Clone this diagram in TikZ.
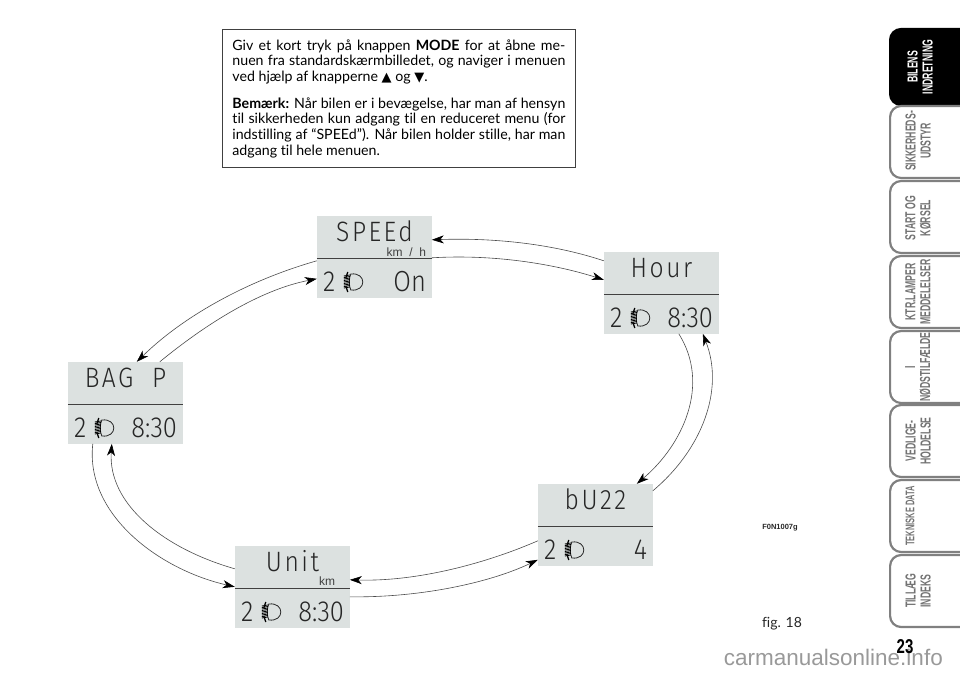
\documentclass[tikz,border=0pt]{standalone}
\usepackage{fontspec}
\usepackage{xcolor}
\usetikzlibrary{arrows.meta,calc,positioning}
\setmainfont[Ligatures=NoCommon]{Lato}
\newfontfamily\symfont{DejaVu Sans}
\newfontfamily\lcdfont[FakeStretch=0.88]{Fira Sans Light}
\newfontfamily\tabfont[FakeStretch=0.6]{Liberation Sans}
\newfontfamily\pagefont[FakeStretch=0.75]{Liberation Sans}
\newfontfamily\headfont{Liberation Sans}
\definecolor{lcdgrey}{HTML}{DCE1E0}
\definecolor{tabgrey}{HTML}{808080}
\tikzset{
  lcd/.style={fill=lcdgrey, minimum width=115pt, minimum height=82pt, inner sep=0pt},
  lcdtop/.style={font=\lcdfont\fontsize{28}{28}\selectfont\addfontfeature{LetterSpace=9}, anchor=base, inner sep=0pt, text=black!85},
  lcdval/.style={font=\lcdfont\fontsize{29}{29}\selectfont, anchor=base east, inner sep=0pt, text=black!85},
  lcdgear/.style={font=\lcdfont\fontsize{29}{29}\selectfont, anchor=base west, inner sep=0pt, text=black!85},
  lcdunit/.style={font=\headfont\fontsize{12}{12}\selectfont, anchor=base east, inner sep=0pt, text=black!75},
  arr/.style={-{Stealth[length=12pt,width=8pt,inset=3.5pt,color=black]}, line width=0.6pt, draw=black!70},
  notebox/.style={draw=black!75, line width=0.8pt, fill=white, align=justify,
    font=\fontsize{14.2}{15.7}\selectfont, text width=333pt, inner xsep=10pt, inner ysep=10pt, anchor=north west},
  tab/.style={draw=tabgrey, line width=2.2pt, fill=white, rounded corners=11pt, minimum width=100pt,
    minimum height=72pt, inner sep=0pt, anchor=west, text=black!55},
  tabon/.style={tab, draw=black, fill=black, minimum height=76pt, text=white},
  tabtext/.style={rotate=90, align=center, inner sep=0pt, font=\tabfont\bfseries\fontsize{14.5}{15}\selectfont},
  lamp/.pic={
    \draw[line width=0.8pt, draw=black!85] (1,-8) .. controls (17,-10) and (17,10) .. (1,8) .. controls (-1,4) and (-1,-4) .. cycle;
    \foreach \yy in {-6,-4.5,...,6} \draw[line width=0.8pt] (-6,\yy) -- (0,\yy-1);
    \draw[line width=1.3pt] (-2,-10) -- (-4,-4) (-4,4) -- (-2,10);
  },
}
\begin{document}
\begin{tikzpicture}[x=1pt,y=-1pt]
\path[use as bounding box,clip] (0,0) rectangle (960,677);

% note
\node[notebox] (note) at (222,29) {%
Giv et kort tryk på knappen \textbf{MODE} for at åbne me-\linebreak
nuen fra standardskærmbilledet, og naviger i menuen\linebreak
ved hjælp af knapperne {\symfont\fontsize{13}{13}\selectfont ▲} og {\symfont\fontsize{13}{13}\selectfont ▼}.\par\vspace{11pt}
\textbf{Bemærk:} Når bilen er i bevægelse, har man af hensyn\linebreak
til sikkerheden kun adgang til en reduceret menu (for\linebreak
indstilling af “SPEEd”). Når bilen holder stille, har man\linebreak
adgang til hele menuen.};

% displays
\node[lcd] (speed) at (374.5,257) {};
\node[lcd] (hour) at (661.5,293) {};
\node[lcd] (bagp) at (125.5,403) {};
\node[lcd] (buzz) at (595.5,525) {};
\node[lcd] (unit) at (292.5,587) {};

\foreach \dsp/\head/\val/\rw in {speed/SPEEd/On/0.9pt, hour/Hour/8:30/0.9pt, bagp/{BAG\ \ P}/8:30/0.9pt, buzz/bU22/4/1.4pt, unit/Unit/8:30/1.4pt}{
  \draw[line width=\rw, draw=black!75] ([yshift=-1.5pt]\dsp.west) -- ([yshift=-1.5pt]\dsp.east);
  \node[lcdtop] (\dsp top) at ($(\dsp.center)+(0,-16)$) {\head};
  \node[lcdgear] (\dsp gear) at ($(\dsp.west)+(6,34)$) {2};
  \node[lcdval] (\dsp val) at ($(\dsp.east)+(-6,34)$) {\val};
  \pic at ($(\dsp.west)+(33,25)$) {lamp};
}
\node[lcdunit] (speedunit) at ($(speed.east)+(-6,-1)$) {km\ \ /\ \ h};
\node[lcdunit] (unitunit) at ($(unit.east)+(-15,-2)$) {km};

% ring of arrows
\draw[arr] ($(hour.north west)+(0,9)$) .. controls +(-54,-18) and +(58,-2) .. ($(speed.north west)+(115,24)$);
\draw[arr] ($(speed.north west)+(115,42)$) .. controls +(68,-4) and +(-44,-14) .. ($(hour.north west)+(0,28)$);
\draw[arr] ($(hour.north west)+(75,82)$) .. controls +(32,51) and +(46,-39) .. ($(buzz.north west)+(99,0)$);
\draw[arr] ($(buzz.north west)+(115,7)$) .. controls +(49,-41) and +(22,56) .. ($(hour.north west)+(99,82)$);
\draw[arr] ($(buzz.north west)+(0,57)$) .. controls +(-48,21) and +(70,2) .. ($(unit.north west)+(115,34)$);
\draw[arr] ($(unit.north west)+(115,51)$) .. controls +(70,1) and +(-48,23) .. ($(buzz.north west)+(0,76)$);
\draw[arr] ($(unit.north west)+(0,23)$) .. controls +(-70,-20) and +(-4,61) .. ($(bagp.north west)+(44,82)$);
\draw[arr] ($(bagp.north west)+(25,82)$) .. controls +(-8,71) and +(-75,-17) .. ($(unit.north west)+(0,41)$);
\draw[arr] ($(speed.north west)+(0,45)$) .. controls +(-67,19) and +(48,-47) .. ($(bagp.north west)+(69,0)$);
\draw[arr] ($(bagp.north west)+(92,0)$) .. controls +(45,-37) and +(-57,11) .. ($(speed.north west)+(0,63)$);

% labels
\node[font=\headfont\bfseries\fontsize{7.5}{7.5}\selectfont, text=black!85] (code) at (780,528) {F0N1007g};
\node[font=\fontsize{14}{14}\selectfont, text=black!85] (figno) at (782,624) {fig. 18};

% side tabs
\node[tabon] (tab1) at (889,67) {};
\node[tab] (tab2) at (889,142) {};
\node[tab] (tab3) at (889,217) {};
\node[tab] (tab4) at (889,292) {};
\node[tab] (tab5) at (889,367) {};
\node[tab] (tab6) at (889,441) {};
\node[tab] (tab7) at (889,516) {};
\node[tab] (tab8) at (889,591) {};
\node[tabtext, text=white] (tabtext1) at (920,67) {BILENS\\INDRETNING};
\node[tabtext, text=black!55] (tabtext2) at (918,141) {SIKKERHEDS-\\UDSTYR};
\node[tabtext, text=black!55] (tabtext3) at (918,218) {START OG\\KØRSEL};
\node[tabtext, text=black!55] (tabtext4) at (918,292) {KTR.LAMPER\\MEDDELELSER};
\node[tabtext, text=black!55] (tabtext5) at (918,367) {I\\NØDSTILFÆLDE};
\node[tabtext, text=black!55] (tabtext6) at (918,441) {VEDLIGE-\\HOLDELSE};
\node[tabtext, text=black!55, font=\tabfont\bfseries\fontsize{12.5}{15}\selectfont] (tabtext7) at (910,516) {TEKNISKE DATA};
\node[tabtext, text=black!55] (tabtext8) at (918,591) {TILLÆG\\INDEKS};

\node[font=\headfont\fontsize{22.5}{22.5}\selectfont, text=black!40, anchor=base east, inner sep=0pt] (mark) at (943,665) {carmanualsonline.info};
\node[font=\pagefont\bfseries\fontsize{20}{20}\selectfont] (pageno) at (905,647) {23};
\end{tikzpicture}
\end{document}
